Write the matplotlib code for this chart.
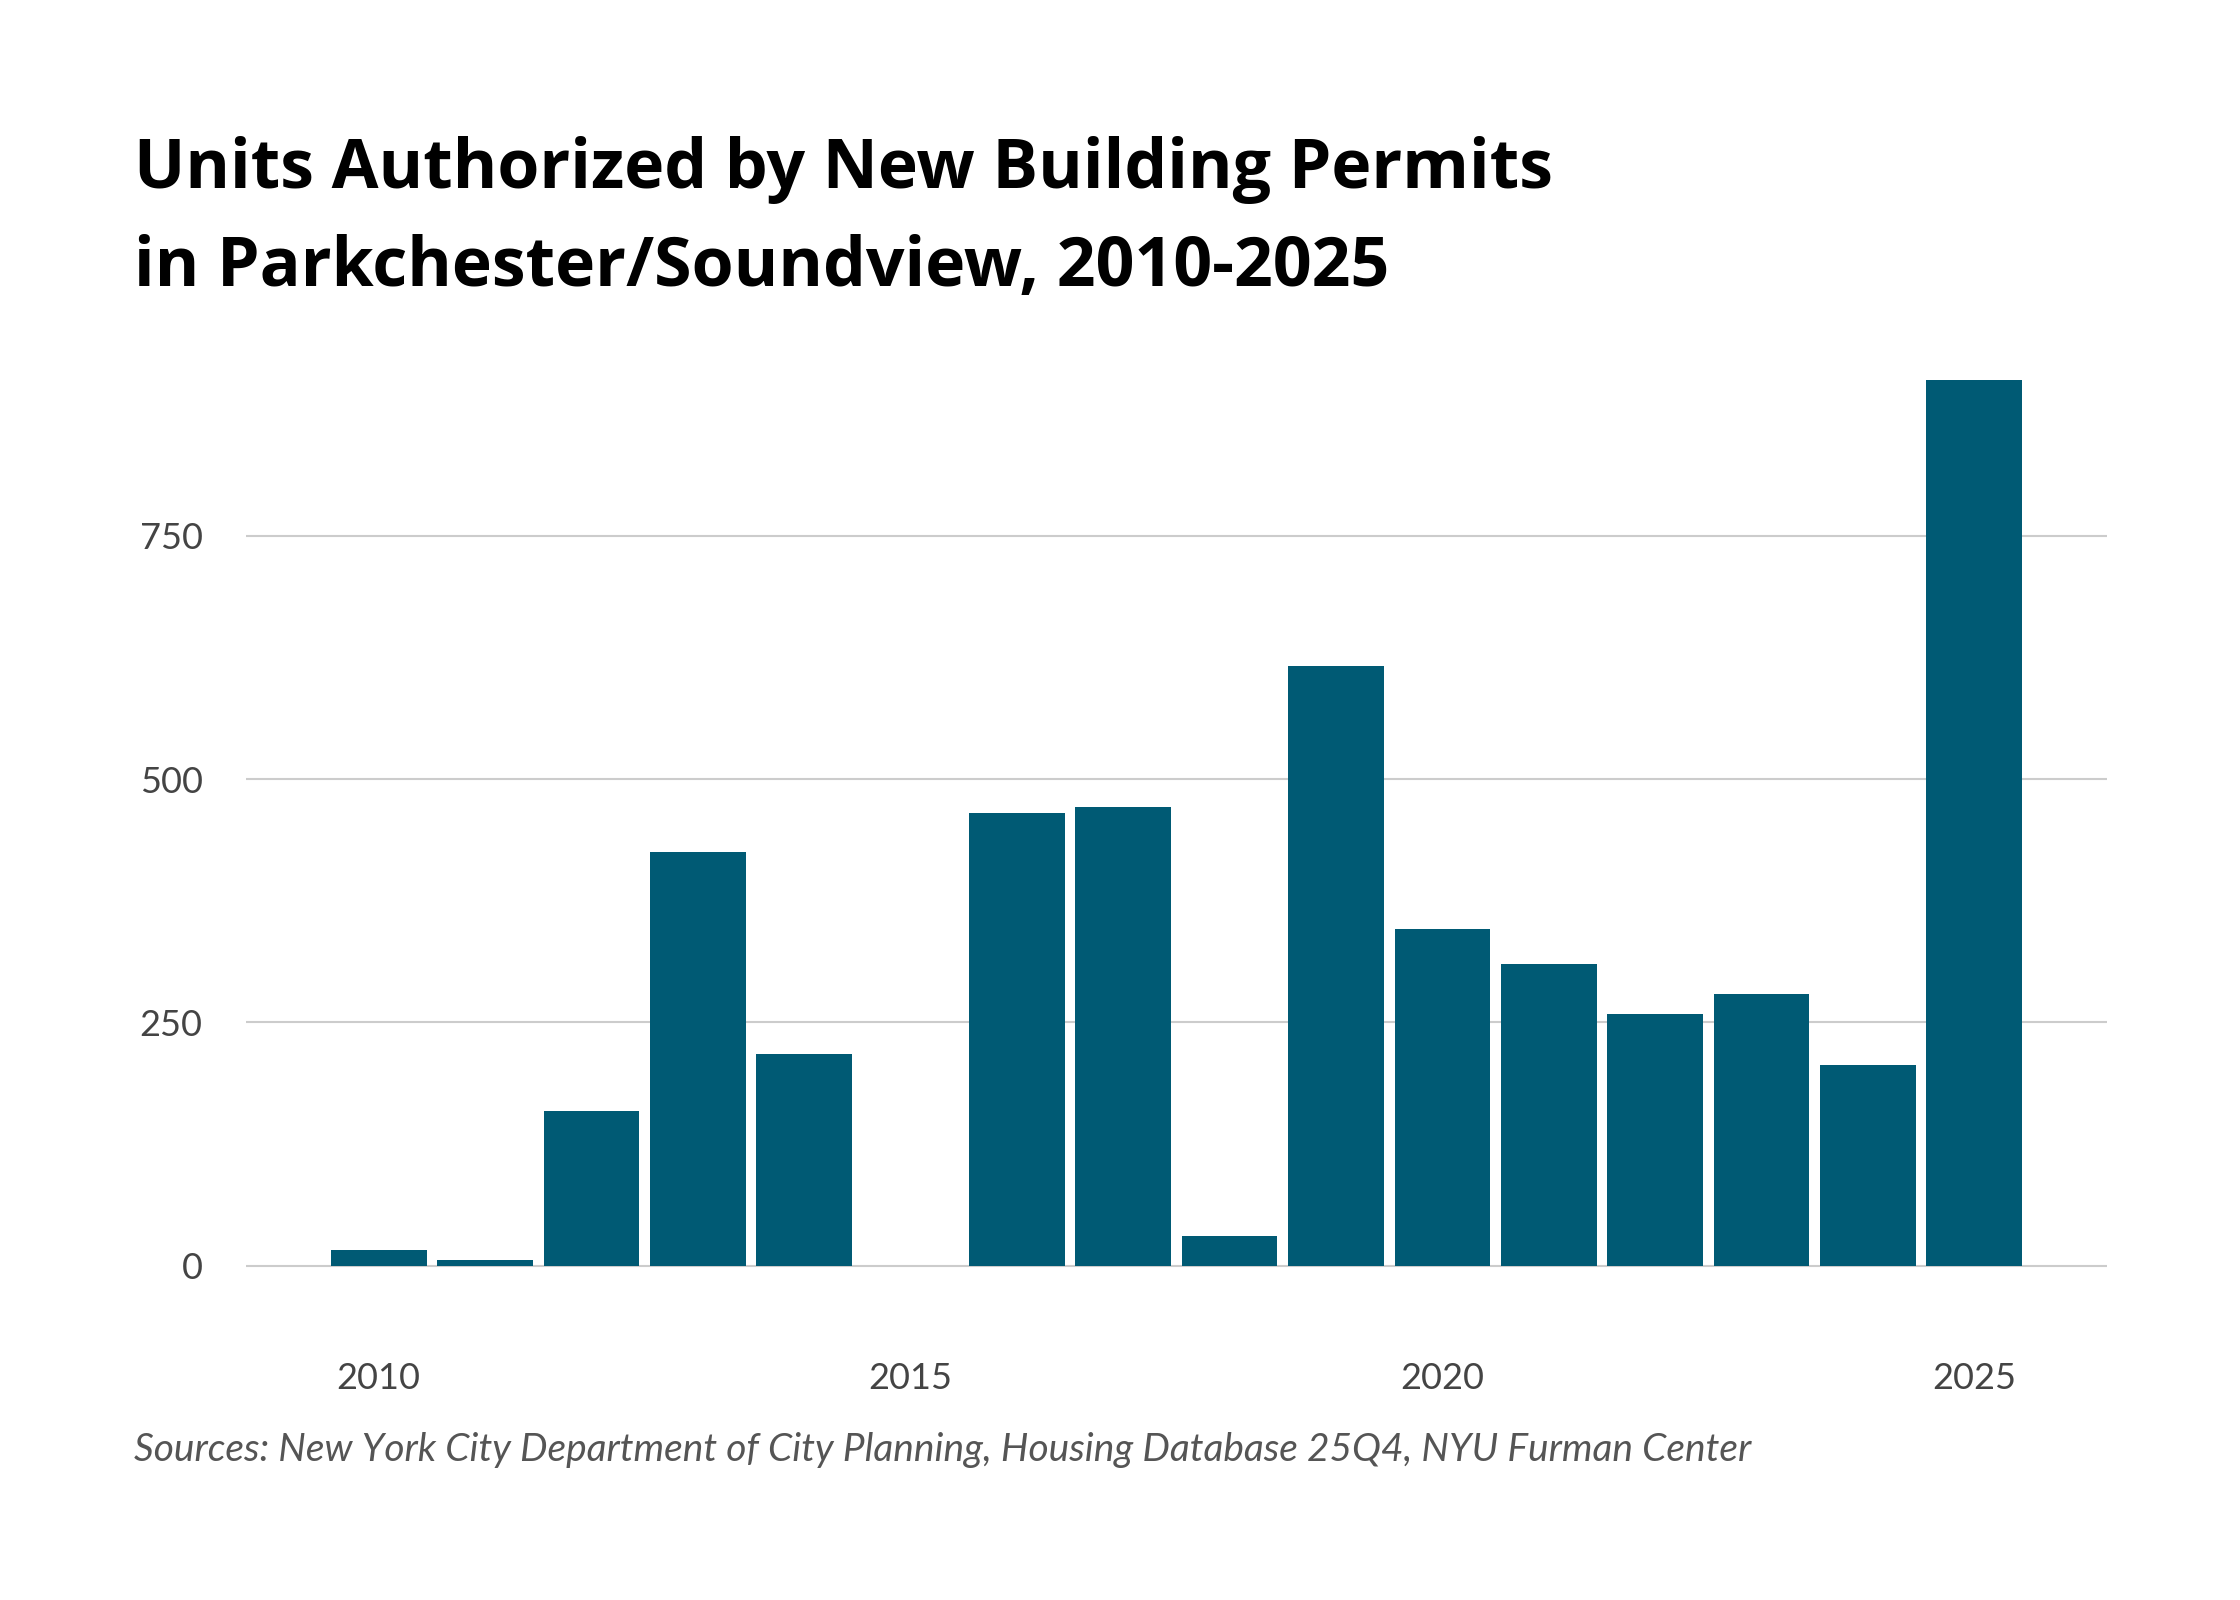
import matplotlib
matplotlib.use("Agg")
import matplotlib.pyplot as plt

years = list(range(2010, 2026))
units = [16, 6, 159, 425, 218, 0, 465, 471, 31, 616, 346, 310, 259, 279, 206, 910]
yticks = [0, 250, 500, 750]
xticks = [2010, 2015, 2020, 2025]

title = "Units Authorized by New Building Permits\nin Parkchester/Soundview, 2010-2025"
source = "Sources: New York City Department of City Planning, Housing Database 25Q4, NYU Furman Center"

bar_color = "#005a74"

fig = plt.figure(figsize=(22.4, 16), dpi=100)
fig.patch.set_facecolor("white")

ax = fig.add_axes([0.1097, 0.1967, 0.8310, 0.5841])
ax.bar(years, units, width=0.9, color=bar_color, zorder=3)
ax.set_xlim(2008.75, 2026.25)
ax.set_ylim(-20, 940)
ax.set_yticks(yticks)
ax.set_yticklabels([str(v) for v in yticks])
ax.set_xticks(xticks)
ax.set_xticklabels([str(v) for v in xticks])
ax.grid(axis="y", color="#cccccc", linewidth=1.5, zorder=0)
ax.grid(axis="x", visible=False)
for s in ax.spines.values():
    s.set_visible(False)
ax.tick_params(axis="both", length=0, labelsize=26, labelcolor="#444444")
ax.tick_params(axis="y", pad=31)
ax.tick_params(axis="x", pad=55)
for lab in ax.get_xticklabels() + ax.get_yticklabels():
    lab.set_family("Lato")

fig.text(0.06, 0.915, title, ha="left", va="top", fontsize=49,
         fontweight="bold", family="Open Sans", color="#000000", linespacing=1.58)
fig.text(0.06, 0.0938, source, ha="left", va="center", fontsize=28,
         style="italic", family="Lato", color="#555555")

fig.savefig("out.png", dpi=100, facecolor="white")
